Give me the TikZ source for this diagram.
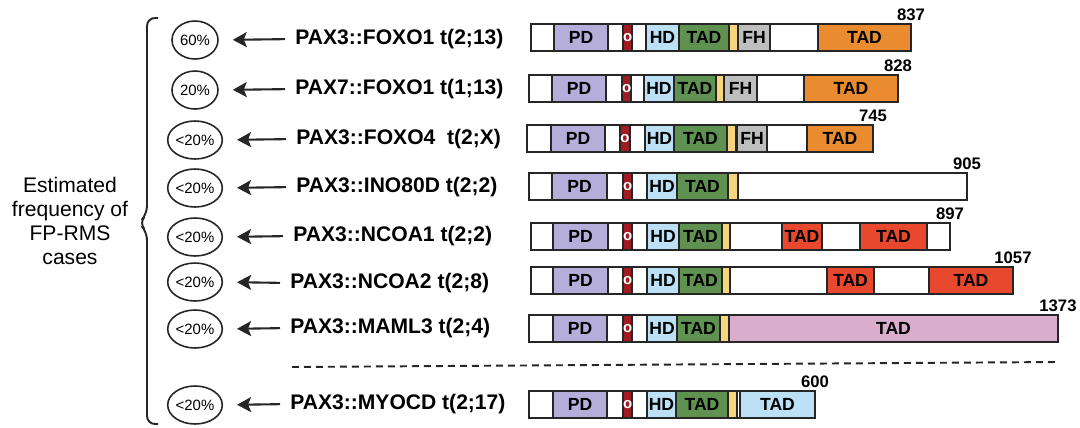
\documentclass[tikz,border=0pt]{standalone}
\usepackage{fontspec}
\setmainfont{Liberation Sans}
\usetikzlibrary{arrows.meta,positioning,shapes.geometric}
\definecolor{mLine}{HTML}{262626}
\definecolor{mPD}{HTML}{B5AEDB}
\definecolor{mOct}{HTML}{A01C22}
\definecolor{mHD}{HTML}{BCE0F5}
\definecolor{mGreen}{HTML}{5F9150}
\definecolor{mYel}{HTML}{F7D57E}
\definecolor{mFH}{HTML}{BEBEBE}
\definecolor{mOrange}{HTML}{E98B2E}
\definecolor{mRed}{HTML}{E8482E}
\definecolor{mPink}{HTML}{DBADCC}
\tikzset{
  >=Stealth,
  freq/.style={ellipse,draw=mLine,line width=0.9pt,inner sep=0pt,minimum width=0.92cm,minimum height=0.76cm,font=\fontsize{8.5}{9}\selectfont},
  fus/.style ={anchor=west,inner sep=0pt,font=\fontsize{12}{14}\selectfont\bfseries},
  seg/.style ={draw=mLine,line width=1.1pt,anchor=west,outer sep=0pt,inner sep=0pt,minimum height=0.54cm,minimum width=#1*0.02cm,font=\fontsize{10}{11}\selectfont\bfseries},
  oct/.style ={seg=#1,fill=mOct,text=white,font=\fontsize{8.5}{9}\selectfont\bfseries},
  len/.style ={anchor=base,inner sep=0pt,font=\fontsize{9.5}{10}\selectfont\bfseries},
  link/.style={line width=1.2pt,mLine,shorten <=0.2cm,shorten >=0.28cm,-{Stealth[length=0.28cm,width=0.3cm,inset=0.06cm]}},
}
\begin{document}
\begin{tikzpicture}[x=0.02cm,y=-0.02cm]
  \useasboundingbox (0,0) rectangle (1080,427);

  % ---- LEFT: frequencies ----
  \node[align=center,font=\fontsize{12}{13.6}\selectfont] (est) at (70,221) {Estimated\\frequency of\\FP-RMS\\cases};
  \draw[mLine,line width=1.1pt,rounded corners=0.16cm] (158,18) -- (147,18) -- (147,214) -- (139,223) -- (147,232) -- (147,424) -- (158,424);

  \node[freq] (c1) at (195,40) {60\%};
  \node[freq] (c2) at (195,90) {20\%};
  \node[freq] (c3) at (195,140) {<20\%};
  \node[freq] (c4) at (195,188) {<20\%};
  \node[freq] (c5) at (195,237) {<20\%};
  \node[freq] (c6) at (195,282) {<20\%};
  \node[freq] (c7) at (195,329) {<20\%};
  \node[freq] (c8) at (195,405) {<20\%};

  \node[fus] (f1) at (295,39) {PAX3::FOXO1 t(2;13)};
  \node[fus] (f2) at (295,89) {PAX7::FOXO1 t(1;13)};
  \node[fus] (f3) at (296,139) {PAX3::FOXO4\ \ t(2;X)};
  \node[fus] (f4) at (296,187) {PAX3::INO80D t(2;2)};
  \node[fus] (f5) at (293,236) {PAX3::NCOA1 t(2;2)};
  \node[fus] (f6) at (290,283) {PAX3::NCOA2 t(2;8)};
  \node[fus] (f7) at (290,328) {PAX3::MAML3 t(2;4)};
  \node[fus] (f8) at (290,404) {PAX3::MYOCD t(2;17)};

  \draw[link] (f1.west) -- (c1.east); \draw[link] (f2.west) -- (c2.east);
  \draw[link] (f3.west) -- (c3.east); \draw[link] (f4.west) -- (c4.east);
  \draw[link] (f5.west) -- (c5.east); \draw[link] (f6.west) -- (c6.east);
  \draw[link] (f7.west) -- (c7.east); \draw[link] (f8.west) -- (c8.east);

  % ---- RIGHT: protein bars ----
  % PAX3::FOXO1
  \node[seg=380,fill=white] (b1) at (531,37.5) {};
  \node[seg=54,fill=mPD] (pd1) at (554,37.5) {PD}; \node[oct=9] (o1) at (623,37.5) {o};
  \node[seg=33,fill=mHD] (hd1) at (646,37.5) {HD}; \node[seg=50,fill=mGreen] (ta1) at (679,37.5) {TAD};
  \node[seg=9,fill=mYel] (y1) at (729,37.5) {}; \node[seg=32,fill=mFH] (fh1) at (738,37.5) {FH};
  \node[seg=93,fill=mOrange] (tb1) at (818,37.5) {TAD};
  \node[len] (n1) at (911,20) {837};

  % PAX7::FOXO1
  \node[seg=369,fill=white] (b2) at (529,88.5) {};
  \node[seg=54,fill=mPD] (pd2) at (552,88.5) {PD}; \node[oct=9] (o2) at (622,88.5) {o};
  \node[seg=30,fill=mHD] (hd2) at (644,88.5) {HD}; \node[seg=42,fill=mGreen] (ta2) at (674,88.5) {TAD};
  \node[seg=8,fill=mYel] (y2) at (716,88.5) {}; \node[seg=33,fill=mFH] (fh2) at (724,88.5) {FH};
  \node[seg=94,fill=mOrange] (tb2) at (804,88.5) {TAD};
  \node[len] (n2) at (898,71) {828};

  % PAX3::FOXO4
  \node[seg=346,fill=white] (b3) at (527,138.5) {};
  \node[seg=54,fill=mPD] (pd3) at (551,138.5) {PD}; \node[oct=10] (o3) at (620,138.5) {o};
  \node[seg=29,fill=mHD] (hd3) at (645,138.5) {HD}; \node[seg=53,fill=mGreen] (ta3) at (674,138.5) {TAD};
  \node[seg=9,fill=mYel] (y3) at (727,138.5) {}; \node[seg=30,fill=mFH] (fh3) at (737,138.5) {FH};
  \node[seg=66,fill=mOrange] (tb3) at (807,138.5) {TAD};
  \node[len] (n3) at (873,121) {745};

  % PAX3::INO80D
  \node[seg=438,fill=white] (b4) at (529,186.5) {};
  \node[seg=55,fill=mPD] (pd4) at (552,186.5) {PD}; \node[oct=9] (o4) at (623,186.5) {o};
  \node[seg=30,fill=mHD] (hd4) at (647,186.5) {HD}; \node[seg=51,fill=mGreen] (ta4) at (677,186.5) {TAD};
  \node[seg=10,fill=mYel] (y4) at (728,186.5) {};
  \node[len] (n4) at (967,169) {905};

  % PAX3::NCOA1
  \node[seg=419,fill=white] (b5) at (531,236.5) {};
  \node[seg=55,fill=mPD] (pd5) at (553,236.5) {PD}; \node[oct=9] (o5) at (623,236.5) {o};
  \node[seg=32,fill=mHD] (hd5) at (647,236.5) {HD}; \node[seg=43,fill=mGreen] (ta5) at (679,236.5) {TAD};
  \node[seg=8,fill=mYel] (y5) at (722,236.5) {};
  \node[seg=40,fill=mRed] (tb5) at (782,236.5) {TAD}; \node[seg=67,fill=mRed] (tc5) at (860,236.5) {TAD};
  \node[len] (n5) at (950,219) {897};

  % PAX3::NCOA2
  \node[seg=482,fill=white] (b6) at (531,280.5) {};
  \node[seg=55,fill=mPD] (pd6) at (553,280.5) {PD}; \node[oct=9] (o6) at (623,280.5) {o};
  \node[seg=32,fill=mHD] (hd6) at (647,280.5) {HD}; \node[seg=43,fill=mGreen] (ta6) at (679,280.5) {TAD};
  \node[seg=8,fill=mYel] (y6) at (722,280.5) {};
  \node[seg=47,fill=mRed] (tb6) at (827,280.5) {TAD}; \node[seg=84,fill=mRed] (tc6) at (929,280.5) {TAD};
  \node[len] (n6) at (1013,263) {1057};

  % PAX3::MAML3
  \node[seg=529,fill=white] (b7) at (529,328.5) {};
  \node[seg=54,fill=mPD] (pd7) at (553,328.5) {PD}; \node[oct=9] (o7) at (623,328.5) {o};
  \node[seg=30,fill=mHD] (hd7) at (647,328.5) {HD}; \node[seg=43,fill=mGreen] (ta7) at (677,328.5) {TAD};
  \node[seg=9,fill=mYel] (y7) at (720,328.5) {}; \node[seg=329,fill=mPink] (tb7) at (729,328.5) {TAD};
  \node[len] (n7) at (1058,311) {1373};

  % divider
  \draw[mLine,line width=1.1pt,dash pattern=on 0.14cm off 0.1cm] (292,367) -- (1058,362);

  % PAX3::MYOCD
  \node[seg=286,fill=white] (b8) at (529,404.5) {};
  \node[seg=54,fill=mPD] (pd8) at (553,404.5) {PD}; \node[oct=9] (o8) at (623,404.5) {o};
  \node[seg=29,fill=mHD] (hd8) at (647,404.5) {HD}; \node[seg=52,fill=mGreen] (ta8) at (676,404.5) {TAD};
  \node[seg=9,fill=mYel] (y8) at (728,404.5) {}; \node[seg=75,fill=mHD] (tb8) at (740,404.5) {TAD};
  \node[len] (n8) at (815,387) {600};
\end{tikzpicture}
\end{document}
